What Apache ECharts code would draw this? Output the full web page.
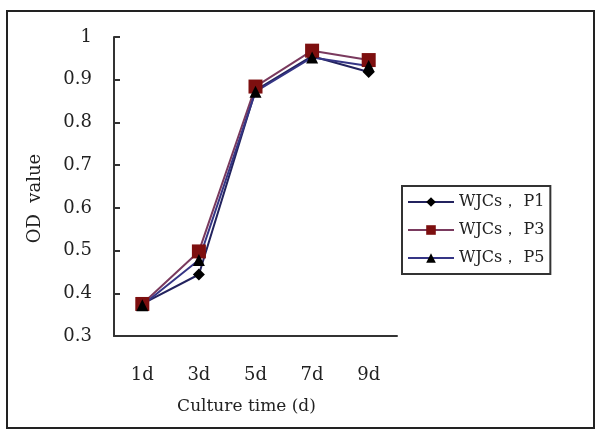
<!DOCTYPE html>
<html>
<head>
<meta charset="utf-8">
<script src="https://cdn.jsdelivr.net/npm/echarts@6/dist/echarts.min.js"></script>
<style>
  html, body { margin: 0; padding: 0; background: #fff; }
  #chart { width: 601px; height: 440px; }
</style>
</head>
<body>
<div id="chart"></div>
<script>
// culture days and OD readings
var days = ['1d', '3d', '5d', '7d', '9d'];
var p1 = [0.375, 0.444, 0.875, 0.955, 0.918];
var p3 = [0.375, 0.498, 0.884, 0.968, 0.946];
var p5 = [0.372, 0.478, 0.872, 0.952, 0.932];
var names = ['WJCs， P1', 'WJCs， P3', 'WJCs， P5'];

var font = 'DejaVu Serif, serif';

var myChart = echarts.init(document.getElementById('chart'));
var option = {
    animation: false,
    backgroundColor: '#fff',
    graphic: [{
        type: 'rect',
        shape: { x: 7, y: 11, width: 587, height: 417 },
        style: { fill: 'none', stroke: '#222', lineWidth: 2 }
    }],
    grid: { left: 114, top: 37, right: 204, bottom: 104 },
    legend: {
        orient: 'vertical',
        left: 402,
        top: 186,
        itemGap: 12,
        itemWidth: 46,
        itemHeight: 12,
        padding: [8, 6, 8, 5],
        borderColor: '#333',
        borderWidth: 2,
        textStyle: { fontFamily: font, fontSize: 16, color: '#222' },
        data: names
    },
    xAxis: {
        type: 'category',
        data: days,
        boundaryGap: true,
        name: 'Culture time (d)',
        nameLocation: 'middle',
        nameGap: 62,
        nameTextStyle: { fontFamily: font, fontSize: 17, color: '#222', padding: [0, 18, 0, 0] },
        axisLine: { lineStyle: { color: '#333', width: 2 } },
        axisTick: { inside: true, length: 6, lineStyle: { color: '#333', width: 2 } },
        axisLabel: { margin: 30, fontFamily: font, fontSize: 18, color: '#222' }
    },
    yAxis: {
        type: 'value',
        min: 0.3,
        max: 1,
        interval: 0.1,
        name: 'OD  value',
        nameLocation: 'middle',
        nameRotate: 90,
        nameGap: 70,
        nameTextStyle: { fontFamily: font, fontSize: 18, color: '#222', padding: [0, 24, 0, 0] },
        splitLine: { show: false },
        axisLine: { show: true, lineStyle: { color: '#333', width: 2 } },
        axisTick: { show: true, inside: true, length: 6, lineStyle: { color: '#333', width: 2 } },
        axisLabel: {
            margin: 22,
            fontFamily: font,
            fontSize: 18,
            color: '#222',
            formatter: function (v) { return String(Number(v.toFixed(1))); }
        }
    },
    series: [
        {
            name: names[0],
            type: 'line',
            data: p1,
            symbol: 'diamond',
            symbolSize: 12,
            itemStyle: { color: '#000' },
            lineStyle: { color: '#23235e', width: 2 }
        },
        {
            name: names[1],
            type: 'line',
            data: p3,
            symbol: 'rect',
            symbolSize: 14,
            itemStyle: { color: '#7d0f0f' },
            lineStyle: { color: '#7a3a5e', width: 2 }
        },
        {
            name: names[2],
            type: 'line',
            data: p5,
            symbol: 'triangle',
            symbolSize: 12,
            itemStyle: { color: '#000' },
            lineStyle: { color: '#353585', width: 2 }
        }
    ]
};
myChart.setOption(option);
</script>
</body>
</html>
